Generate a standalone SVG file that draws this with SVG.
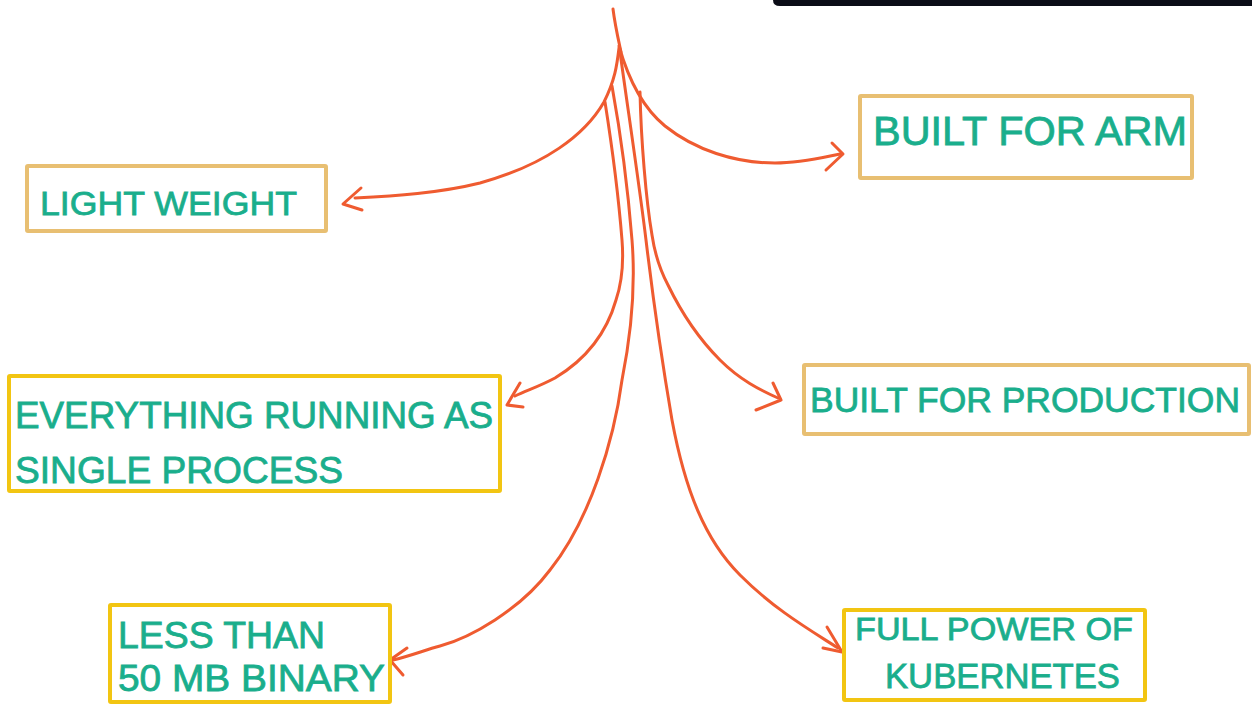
<svg xmlns="http://www.w3.org/2000/svg" width="1252" height="704" viewBox="0 0 1252 704">
<style>
.conn{fill:none;stroke:#EF5B30;stroke-width:3;stroke-linecap:round;stroke-linejoin:round}
.tan{fill:#fff;stroke:#E8BF72;stroke-width:4}
.yel{fill:#fff;stroke:#F2C512;stroke-width:4}
.lbl{font-family:"Liberation Sans",Arial,sans-serif;fill:#1AAE8C;stroke:#1AAE8C;stroke-width:0.8;font-weight:normal}
</style>
<rect width="1252" height="704" fill="#fff"/>
<path d="M773,0 H1252 V6 H780 Q773,6 773,0 Z" fill="#0B0D17"/>
<g id="connectors">
<path class="conn" d="M613,9 C615,25 618,38 621,52" stroke-width="3.5"/>
<path class="conn" d="M619,48 C617,65 615,80 604,102 C585,135 545,165 480,183 C440,193 395,196 355,198"/>
<path class="conn" d="M361,188 L343,204 L362,210"/>
<path class="conn" d="M619,46 C628,78 643,108 665,126 C695,150 735,163 775,163 C800,163 820,158 840,154"/>
<path class="conn" d="M832,143 L843,154 L826,170"/>
<path class="conn" d="M605,102 C611,140 618,190 622,240 C624,265 621,285 616,300 C606,335 585,360 555,378 C540,386 528,390 515,396"/>
<path class="conn" d="M520,383 L507,405 L523,407"/>
<path class="conn" d="M612,86 C620,130 628,190 632,240 C636,290 630,340 622,380 C614,440 590,520 550,570 C520,610 470,638 440,646 C425,650 410,656 393,660"/>
<path class="conn" d="M407,648 L390,660 L403,675"/>
<path class="conn" d="M620,52 C628,110 640,190 646,240 C652,290 660,350 672,420 C685,490 705,540 740,575 C775,610 810,630 838,648"/>
<path class="conn" d="M827,627 L842,652 L823,648"/>
<path class="conn" d="M640,92 C641,140 646,200 652,235 C655,255 660,270 668,285 C685,320 705,345 720,360 C740,380 760,390 778,398"/>
<path class="conn" d="M773,383 L781,400 L756,410"/>
</g>
<g id="node-lightweight">
<rect class="tan" x="27" y="166" width="299" height="65" rx="1"/>
<text class="lbl" x="40" y="215" font-size="34" textLength="257" lengthAdjust="spacingAndGlyphs">LIGHT WEIGHT</text>
</g>
<g id="node-arm">
<rect class="tan" x="860" y="96" width="332" height="82" rx="1"/>
<text class="lbl" x="873" y="145" font-size="40" textLength="314" lengthAdjust="spacingAndGlyphs">BUILT FOR ARM</text>
</g>
<g id="node-single-process">
<rect class="yel" x="9" y="376" width="491" height="115" rx="1"/>
<text class="lbl" x="15" y="428" font-size="36" textLength="478" lengthAdjust="spacingAndGlyphs">EVERYTHING RUNNING AS</text>
<text class="lbl" x="15" y="483" font-size="36" textLength="328" lengthAdjust="spacingAndGlyphs">SINGLE PROCESS</text>
</g>
<g id="node-production">
<rect class="tan" x="804" y="365" width="445" height="69" rx="1"/>
<text class="lbl" x="810" y="412" font-size="35" textLength="430" lengthAdjust="spacingAndGlyphs">BUILT FOR PRODUCTION</text>
</g>
<g id="node-binary">
<rect class="yel" x="110" y="605" width="280" height="97" rx="1"/>
<text class="lbl" x="118" y="648" font-size="36" textLength="207" lengthAdjust="spacingAndGlyphs">LESS THAN</text>
<text class="lbl" x="118" y="691" font-size="37" textLength="267" lengthAdjust="spacingAndGlyphs">50 MB BINARY</text>
</g>
<g id="node-kubernetes">
<rect class="yel" x="844" y="610" width="301" height="90" rx="1"/>
<text class="lbl" x="855" y="640" font-size="32" textLength="278" lengthAdjust="spacingAndGlyphs">FULL POWER OF</text>
<text class="lbl" x="885" y="688" font-size="35" textLength="235" lengthAdjust="spacingAndGlyphs">KUBERNETES</text>
</g>
</svg>
